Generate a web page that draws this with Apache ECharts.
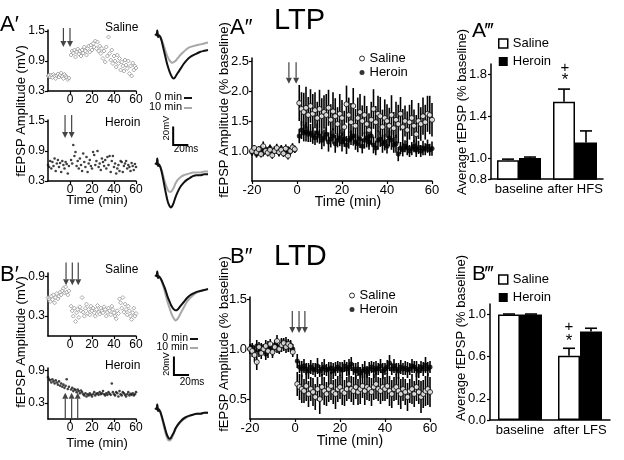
<!DOCTYPE html>
<html><head><meta charset="utf-8">
<script src="https://cdn.jsdelivr.net/npm/echarts@6/dist/echarts.min.js"></script>
<style>html,body{margin:0;padding:0;background:#fff}#c{width:624px;height:460px}</style>
</head><body><div id="c"></div>
<script>
const FONT = '"Liberation Sans", Arial, sans-serif';

// ---- time axis (min) shared by all time-course panels ----
const timeMin = [-20,-19,-18,-17,-16,-15,-14,-13,-12,-11,-10,-9,-8,-7,-6,-5,-4,-3,-2,-1,
 1,2,3,4,5,6,7,8,9,10,11,12,13,14,15,16,17,18,19,20,21,22,23,24,25,26,27,28,29,30,
 31,32,33,34,35,36,37,38,39,40,41,42,43,44,45,46,47,48,49,50,51,52,53,54,55,56,57,58,59,60];

// ---- A' single-slice fEPSP amplitude (mV) ----
const salA1 = [0.60,0.62,0.58,0.62,0.57,0.63,0.60,0.55,0.61,0.64,0.58,0.62,0.66,0.59,0.55,0.63,0.60,0.57,0.53,0.56,
 1.02,1.10,1.06,1.12,0.98,1.08,1.14,1.04,1.10,1.00, 1.12,1.06,1.18,1.10,1.02,1.15,1.20,1.08,1.22,1.12,
 1.25,1.18,1.30,1.15,1.28,1.10,1.20,1.05,1.15,0.95, 1.10,0.88,1.18,1.00,1.38,1.05,0.92,1.12,0.85,1.00,
 0.90,0.78,1.02,0.85,0.95,0.72,0.88,0.80,0.70,0.92, 0.82,0.75,0.90,0.65,0.80,0.60,0.86,0.72,0.80,0.76];
const herA1 = [0.62,0.58,0.70,0.55,0.68,0.60,0.75,0.50,0.65,0.72,0.58,0.66,0.48,0.70,0.62,0.55,0.68,0.64,0.45,0.60,
 0.72,0.65,1.02,0.80,0.88,0.60,0.70,0.55,0.75,0.62, 0.50,0.85,0.68,0.58,0.78,0.48,0.65,0.72,0.60,0.55,
 0.88,0.82,0.62,0.70,0.90,0.58,0.65,0.52,0.75,0.68, 0.60,0.72,0.55,0.78,0.62,0.80,0.48,0.70,0.80,0.58,
 0.65,0.45,0.55,0.62,0.50,0.70,0.68,0.48,0.60,0.65, 0.70,0.55,0.62,0.58,0.50,0.66,0.60,0.52,0.64,0.58];

// ---- B' single-slice fEPSP amplitude (mV) ----
const salB1 = [0.58,0.55,0.52,0.60,0.55,0.62,0.50,0.58,0.64,0.56,0.60,0.66,0.62,0.68,0.72,0.65,0.74,0.66,0.62,0.68,
 0.45,0.38,0.30,0.42,0.22,0.35,0.40,0.28,0.44,0.38, 0.58,0.36,0.30,0.42,0.48,0.34,0.40,0.32,0.45,0.38,
 0.42,0.35,0.30,0.40,0.46,0.36,0.33,0.42,0.38,0.35, 0.44,0.40,0.30,0.36,0.42,0.38,0.32,0.45,0.40,0.35,
 0.30,0.26,0.38,0.34,0.56,0.50,0.42,0.58,0.36,0.48, 0.40,0.32,0.45,0.38,0.30,0.25,0.35,0.42,0.30,0.34];
const herB1 = [0.78,0.74,0.72,0.68,0.74,0.70,0.66,0.72,0.68,0.64,0.70,0.62,0.66,0.60,0.64,0.58,0.62,0.74,0.56,0.60,
 0.55,0.58,0.52,0.56,0.54,0.50,0.55,0.52,0.48,0.53, 0.50,0.46,0.44,0.48,0.42,0.46,0.44,0.48,0.45,0.42,
 0.46,0.50,0.44,0.47,0.48,0.45,0.50,0.46,0.48,0.52, 0.46,0.44,0.48,0.45,0.50,0.47,0.45,0.66,0.50,0.46,
 0.44,0.50,0.48,0.42,0.52,0.46,0.44,0.50,0.48,0.45, 0.42,0.46,0.50,0.44,0.47,0.45,0.48,0.44,0.46,0.50];

// ---- A'' LTP group means (% baseline) and SEM ----
const salA2 = [1.00,1.05,0.98,1.03,0.95,1.08,1.00,0.97,1.02,0.93,1.00,1.05,0.98,1.02,0.96,1.04,0.92,1.00,1.06,1.03,
 1.80,1.70,1.65,1.72,1.60,1.75,1.62,1.68,1.55,1.70, 1.58,1.65,1.60,1.72,1.52,1.66,1.58,1.45,1.62,1.55,
 1.40,1.78,1.60,1.48,1.75,1.42,1.55,1.65,1.50,1.60, 1.45,1.35,1.52,1.70,1.48,1.62,1.58,1.40,1.55,1.50,
 1.42,1.60,1.38,1.52,1.45,1.62,1.40,1.50,1.35,1.48, 1.55,1.42,1.28,1.50,1.45,1.58,1.48,1.62,1.60,1.52];
const salA2Err = [0.06,0.05,0.07,0.05,0.06,0.08,0.05,0.06,0.07,0.06,0.05,0.07,0.06,0.05,0.06,0.07,0.06,0.05,0.07,0.06,
 0.30,0.28,0.32,0.35,0.30,0.28,0.33,0.30,0.27,0.32, 0.30,0.28,0.35,0.30,0.26,0.32,0.30,0.28,0.33,0.30,
 0.27,0.31,0.29,0.32,0.30,0.28,0.34,0.30,0.26,0.32, 0.30,0.28,0.30,0.33,0.27,0.30,0.32,0.29,0.31,0.28,
 0.30,0.33,0.27,0.30,0.32,0.28,0.30,0.26,0.31,0.29, 0.30,0.27,0.32,0.30,0.28,0.31,0.29,0.30,0.32,0.28];
const herA2 = [0.98,1.02,0.95,1.00,1.04,0.97,1.03,0.99,1.05,0.96,1.02,1.00,0.98,1.04,0.97,1.01,1.03,0.99,1.05,1.02,
 1.25,1.35,1.30,1.32,1.28,1.30,1.26,1.22,1.30,1.25, 1.18,1.22,1.28,1.15,1.20,1.25,1.12,1.18,1.22,1.15,
 1.20,1.10,1.18,1.22,1.25,1.15,1.12,1.20,1.08,1.18, 1.22,1.15,1.25,1.10,1.05,1.18,1.20,1.12,1.15,1.08,
 1.22,1.18,1.10,1.12,0.95,1.05,1.02,1.08,1.05,1.00, 1.04,1.08,1.02,1.06,1.00,1.05,1.03,1.08,1.02,1.04];
const herA2Err = [0.06,0.05,0.06,0.07,0.05,0.06,0.05,0.07,0.06,0.05,0.06,0.05,0.07,0.06,0.05,0.06,0.05,0.07,0.06,0.05,
 0.12,0.15,0.14,0.16,0.13,0.15,0.14,0.12,0.16,0.13, 0.15,0.14,0.12,0.16,0.14,0.13,0.15,0.12,0.14,0.16,
 0.13,0.15,0.14,0.12,0.16,0.13,0.14,0.15,0.12,0.14, 0.16,0.13,0.15,0.14,0.12,0.16,0.13,0.15,0.14,0.12,
 0.14,0.16,0.13,0.15,0.12,0.10,0.11,0.10,0.12,0.10, 0.11,0.10,0.12,0.11,0.10,0.12,0.10,0.11,0.10,0.12];

// ---- B'' LTD group means (% baseline) and SEM ----
const salB2 = [1.00,0.98,0.94,0.87,1.02,0.96,1.00,1.03,0.98,1.05,0.97,1.02,1.08,1.00,1.04,1.06,1.02,1.05,1.03,0.97,
 0.65,0.62,0.60,0.58,0.63,0.55,0.60,0.57,0.52,0.60, 0.50,0.62,0.58,0.55,0.60,0.63,0.57,0.55,0.60,0.62,
 0.58,0.56,0.60,0.65,0.60,0.58,0.62,0.57,0.60,0.63, 0.58,0.62,0.60,0.57,0.62,0.65,0.60,0.58,0.62,0.60,
 0.63,0.58,0.55,0.60,0.62,0.58,0.55,0.60,0.57,0.52, 0.58,0.60,0.55,0.62,0.57,0.52,0.55,0.58,0.60,0.57];
const salB2Err = [0.05,0.06,0.07,0.08,0.05,0.06,0.05,0.06,0.07,0.05,0.06,0.05,0.06,0.05,0.07,0.05,0.06,0.05,0.06,0.05,
 0.12,0.13,0.14,0.12,0.15,0.13,0.12,0.14,0.13,0.12, 0.15,0.13,0.14,0.12,0.13,0.14,0.12,0.15,0.13,0.12,
 0.14,0.13,0.12,0.15,0.13,0.14,0.12,0.13,0.15,0.12, 0.14,0.13,0.12,0.14,0.13,0.15,0.12,0.13,0.14,0.12,
 0.13,0.15,0.14,0.12,0.13,0.14,0.15,0.12,0.13,0.14, 0.12,0.15,0.13,0.14,0.12,0.16,0.14,0.15,0.16,0.15];
const herB2 = [1.00,1.02,0.98,1.03,0.97,1.02,1.00,0.95,1.03,1.01,0.98,1.04,1.02,1.00,1.05,1.03,1.06,1.02,1.04,1.00,
 0.88,0.82,0.80,0.83,0.80,0.78,0.82,0.80,0.79,0.83, 0.78,0.80,0.82,0.79,0.80,0.81,0.78,0.80,0.82,0.80,
 0.79,0.83,0.80,0.82,0.85,0.80,0.78,0.80,0.76,0.78, 0.80,0.77,0.80,0.82,0.79,0.81,0.80,0.83,0.78,0.80,
 0.82,0.86,0.80,0.83,0.80,0.78,0.82,0.80,0.81,0.79, 0.80,0.83,0.82,0.80,0.78,0.82,0.80,0.84,0.80,0.82];
const herB2Err = [0.05,0.04,0.05,0.06,0.05,0.04,0.05,0.06,0.05,0.04,0.05,0.05,0.06,0.04,0.05,0.05,0.06,0.05,0.04,0.05,
 0.07,0.06,0.08,0.07,0.06,0.08,0.07,0.06,0.07,0.08, 0.06,0.07,0.08,0.06,0.07,0.06,0.08,0.07,0.06,0.07,
 0.08,0.06,0.07,0.08,0.07,0.06,0.08,0.07,0.06,0.07, 0.08,0.06,0.07,0.06,0.08,0.07,0.06,0.07,0.08,0.06,
 0.07,0.08,0.06,0.07,0.06,0.08,0.07,0.06,0.07,0.08, 0.06,0.07,0.06,0.08,0.07,0.06,0.07,0.08,0.07,0.06];

// ---- stimulus arrows: [time, from value, to value] ----
const arrowsA1sal = [[-6,1.56,1.18],[0,1.56,1.18]];
const arrowsA1her = [[-4.5,1.62,1.16],[1.5,1.62,1.16]];
const arrowsA2 = [[-3.6,2.48,2.12],[-0.4,2.48,2.12]];
const arrowsB1sal = [[-3.6,1.11,0.765],[2.1,1.11,0.765],[7.5,1.11,0.765]];
const arrowsB1her = [[-4.3,0.02,0.49],[1.5,0.02,0.49],[7.0,0.02,0.49]];
const arrowsB2 = [[-1.2,1.38,1.16],[1.8,1.38,1.16],[4.4,1.38,1.16]];

// ---- A''' / B''' bar summaries ----
const catsA = ['baseline','after HFS'];
const salA3 = [0.98,1.54], salA3Err = [0.01,0.12];
const herA3 = [1.00,1.15], herA3Err = [0.01,0.11];
const catsB = ['baseline','after LFS'];
const salB3 = [1.00,0.61], salB3Err = [0.005,0.07];
const herB3 = [1.00,0.84], herB3Err = [0.005,0.03];

// ---- sample fEPSP traces (ms, mV) ----
const traceT = [0,2,3,4,5,7,9,11,13,15,17,19,21,23,25,27,30,34,38,42,46,50,55,60,65,70];
const trA_top_0 = [0,-1,4,-3,-1,-3,-8,-15,-22,-29,-35,-40,-44,-47,-48,-46,-42,-37,-32,-28,-25,-23,-21,-19,-18,-17];
const trA_top_10 = [0,-1,4,-3,-1,-3,-6,-11,-16,-21,-25,-28,-30,-31,-30,-29,-26,-22,-19,-16,-14,-13,-12,-11,-10,-9];
const trA_bot_0 = [0,-1,5,-3,-1,-4,-10,-18,-27,-35,-42,-46,-48,-46,-42,-37,-31,-25,-21,-18,-16,-14,-13,-13,-12,-12];
const trA_bot_10 = [0,-1,5,-3,-1,-4,-8,-14,-20,-25,-29,-31,-31,-29,-26,-22,-18,-15,-13,-12,-11,-10,-10,-10,-9,-9];
const trB_top_0 = [0,-1,4,-3,-1,-3,-6,-10,-14,-19,-24,-28,-32,-35,-37,-38,-37,-33,-29,-25,-22,-20,-18,-17,-16,-15];
const trB_top_10 = [0,-1,4,-3,-1,-3,-7,-12,-18,-24,-30,-35,-40,-44,-47,-49,-47,-41,-35,-29,-25,-22,-19,-17,-16,-15];
const trB_bot_0 = [0,-1,4,-3,-1,-4,-9,-15,-21,-27,-31,-33,-32,-29,-26,-22,-18,-14,-11,-9,-8,-7,-6,-6,-5,-5];
const trB_bot_10 = [0,-1,4,-3,-1,-4,-10,-17,-24,-30,-34,-35,-34,-31,-27,-23,-19,-15,-12,-10,-8,-7,-6,-6,-5,-5];
const scaleBarA = [[24,-120,20,20]];
const scaleBarB = [[25,-108,20,20]];

// ================= build =================
const zip = (a)=>timeMin.map((t,i)=>[t,a[i]]);
const zip3 = (a,e)=>timeMin.map((t,i)=>[t,a[i],e[i]]);
const tr = v=>traceT.map((t,i)=>[t,v[i]]);
const f1 = v=>Number(v).toFixed(1);
const f0 = v=>String(v);

function valAxis(g,min,max,ticks,fmt,margin,fs){
  return {gridIndex:g,type:'value',min:min,max:max,
    axisLine:{show:true,onZero:false,lineStyle:{color:'#000',width:1.5}},
    axisTick:{show:true,length:3,customValues:ticks,lineStyle:{color:'#000',width:1.2}},
    axisLabel:{show:true,customValues:ticks,color:'#000',fontSize:fs||13,fontFamily:FONT,margin:margin||4,formatter:fmt},
    splitLine:{show:false}};
}
function hidden(g,min,max){return {gridIndex:g,type:'value',min:min,max:max,show:false};}
function catAxis(g,cats){
  return {gridIndex:g,type:'category',data:cats,
    axisLine:{show:true,lineStyle:{color:'#000',width:1.5}},axisTick:{show:false},
    axisLabel:{color:'#000',fontSize:13,fontFamily:FONT,margin:4,interval:0},splitLine:{show:false}};
}

function errRender(params,api){
  const t=api.value(0),m=api.value(1),e=api.value(2);
  const a=api.coord([t,m-e]),b=api.coord([t,m+e]);
  return {type:'line',shape:{x1:a[0],y1:a[1],x2:b[0],y2:b[1]},style:{stroke:'#000',lineWidth:1.6}};
}
function arrowRender(params,api){
  const t=api.value(0),a=api.value(1),b=api.value(2);
  const p1=api.coord([t,a]),p2=api.coord([t,b]);
  const d=p2[1]>p1[1]?1:-1, hl=6, hw=3;
  return {type:'group',children:[
    {type:'line',shape:{x1:p1[0],y1:p1[1],x2:p2[0],y2:p2[1]-d*hl},style:{stroke:'#444',lineWidth:1.2}},
    {type:'polygon',shape:{points:[[p2[0],p2[1]],[p2[0]-hw,p2[1]-d*hl],[p2[0]+hw,p2[1]-d*hl]]},style:{fill:'#444'}}]};
}
function scaleRender(params,api){
  const t=api.value(0),v=api.value(1),dt=api.value(2),dv=api.value(3);
  const o=api.coord([t,v]),up=api.coord([t,v+dv]),rt=api.coord([t+dt,v]);
  return {type:'polyline',shape:{points:[up,o,rt]},style:{stroke:'#000',lineWidth:2,fill:null}};
}
const BAR_W = 22;
function barErrRender(params,api){
  const c=api.value(0),v=api.value(1),e=api.value(2),side=api.value(3);
  const b=api.coord([c,v]),t=api.coord([c,v+e]);
  const x=b[0]+side*BAR_W/2;
  return {type:'group',children:[
    {type:'line',shape:{x1:x,y1:b[1],x2:x,y2:t[1]},style:{stroke:'#000',lineWidth:1.6}},
    {type:'line',shape:{x1:x-6,y1:t[1],x2:x+6,y2:t[1]},style:{stroke:'#000',lineWidth:1.6}}]};
}

const S = [];
function onGrid(g,obj){obj.xAxisIndex=g;obj.yAxisIndex=g;S.push(obj);}
function custom(g,data,render,z){onGrid(g,{type:'custom',data:data,renderItem:render,encode:{x:0,y:1},z:z||2,silent:true,clip:false});}

// A'
onGrid(0,{type:'scatter',data:zip(salA1),symbol:'diamond',symbolSize:4,itemStyle:{color:'#fff',borderColor:'#8a8a8a',borderWidth:0.9}});
custom(0,arrowsA1sal,arrowRender);
onGrid(1,{type:'scatter',data:zip(herA1),symbol:'circle',symbolSize:2.6,itemStyle:{color:'#111'}});
custom(1,arrowsA1her,arrowRender);
// B'
onGrid(6,{type:'scatter',data:zip(salB1),symbol:'diamond',symbolSize:4,itemStyle:{color:'#fff',borderColor:'#8a8a8a',borderWidth:0.9}});
custom(6,arrowsB1sal,arrowRender);
onGrid(7,{type:'scatter',data:zip(herB1),symbol:'circle',symbolSize:2.6,itemStyle:{color:'#111'}});
custom(7,arrowsB1her,arrowRender);
// traces
function traces(g,black,gray,bar){
  onGrid(g,{type:'line',data:tr(gray),showSymbol:false,smooth:0.3,lineStyle:{color:'#a8a8a8',width:2},silent:true});
  onGrid(g,{type:'line',data:tr(black),showSymbol:false,smooth:0.3,lineStyle:{color:'#111',width:2},silent:true});
  if(bar) custom(g,bar,scaleRender);
}
traces(2,trA_top_0,trA_top_10,scaleBarA);
traces(3,trA_bot_0,trA_bot_10,null);
traces(8,trB_top_0,trB_top_10,scaleBarB);
traces(9,trB_bot_0,trB_bot_10,null);
// A'' and B''
function course(g,sal,salE,her,herE,arrows,tag){
  custom(g,zip3(her,herE),errRender,2);
  onGrid(g,{type:'scatter',name:'Her'+tag,data:zip(her),symbol:'circle',symbolSize:5,itemStyle:{color:'#000'},z:3});
  custom(g,zip3(sal,salE),errRender,4);
  onGrid(g,{type:'scatter',name:'Sal'+tag,data:zip(sal),symbol:'circle',symbolSize:5,itemStyle:{color:'#fff',borderColor:'#000',borderWidth:1},z:5});
  custom(g,arrows,arrowRender,6);
}
course(4,salA2,salA2Err,herA2,herA2Err,arrowsA2,'A2');
course(10,salB2,salB2Err,herB2,herB2Err,arrowsB2,'B2');
// bars
function bars(g,sal,salE,her,herE,tag){
  onGrid(g,{type:'bar',name:'Sal'+tag,data:sal,barWidth:BAR_W,barGap:'0%',itemStyle:{color:'#fff',borderColor:'#000',borderWidth:1.5},clip:true});
  onGrid(g,{type:'bar',name:'Her'+tag,data:her,barWidth:BAR_W,barGap:'0%',itemStyle:{color:'#000',borderColor:'#000',borderWidth:1.5},clip:true});
  custom(g,sal.map((v,i)=>[i,v,salE[i],-1]),barErrRender,5);
  custom(g,her.map((v,i)=>[i,v,herE[i],1]),barErrRender,5);
}
bars(5,salA3,salA3Err,herA3,herA3Err,'A3');
bars(11,salB3,salB3Err,herB3,herB3Err,'B3');

const grids = [
 {left:48,top:30,width:88,height:61},
 {left:48,top:120,width:88,height:61},
 {left:155,top:25,width:53,height:60},
 {left:155,top:154,width:53,height:60},
 {left:252,top:58,width:180,height:123},
 {left:491,top:64,width:112,height:115},
 {left:48,top:273,width:88,height:63},
 {left:48,top:368,width:88,height:51},
 {left:155,top:266,width:53,height:60},
 {left:155,top:399,width:53,height:60},
 {left:250,top:297,width:180,height:122},
 {left:490,top:304,width:120,height:116}
];
const xAxes = [
 valAxis(0,-20,60,[0,20,40,60],f0,3,12),
 valAxis(1,-20,60,[0,20,40,60],f0,3,12),
 hidden(2,0,70), hidden(3,0,70),
 valAxis(4,-20,60,[-20,0,20,40,60],f0,3,13),
 catAxis(5,catsA),
 valAxis(6,-20,60,[0,20,40,60],f0,3,12),
 valAxis(7,-20,60,[0,20,40,60],f0,3,12),
 hidden(8,0,70), hidden(9,0,70),
 valAxis(10,-20,60,[-20,0,20,40,60],f0,3,13),
 catAxis(11,catsB)
];
const yAxes = [
 valAxis(0,0.3,1.52,[0.3,0.9,1.5],f1,3,12),
 valAxis(1,0.3,1.52,[0.3,0.9,1.5],f1,3,12),
 hidden(2,-55,10), hidden(3,-55,10),
 valAxis(4,0.5,2.55,[1,1.5,2,2.5],f1,3,13),
 valAxis(5,0.8,1.9,[0.8,1.0,1.4,1.8],f1,4,13),
 valAxis(6,0,0.95,[0.3,0.9],f1,3,12),
 valAxis(7,0,0.95,[0.3,0.9],f1,3,12),
 hidden(8,-55,10), hidden(9,-55,10),
 valAxis(10,0.3,1.52,[0.5,1,1.5],f1,3,13),
 valAxis(11,0,1.1,[0,0.2,0.6,1.0],f1,4,13)
];

const legFmt = n=>n.indexOf('Sal')===0?'Saline':'Heroin';
function legCircle(left,top,tag){
  return {left:left,top:top,orient:'vertical',itemWidth:5,itemHeight:5,itemGap:1,selectedMode:false,padding:0,
    textStyle:{fontSize:13,fontFamily:FONT,color:'#000'},formatter:legFmt,
    data:[{name:'Sal'+tag,icon:'circle',itemStyle:{color:'#fff',borderColor:'#000',borderWidth:1}},
          {name:'Her'+tag,icon:'circle',itemStyle:{color:'#000',borderWidth:0}}]};
}
function legRect(left,top,tag){
  return {left:left,top:top,orient:'vertical',itemWidth:9,itemHeight:9,itemGap:5,selectedMode:false,padding:0,
    textStyle:{fontSize:13,fontFamily:FONT,color:'#000'},formatter:legFmt,
    data:[{name:'Sal'+tag,icon:'rect',itemStyle:{color:'#fff',borderColor:'#000',borderWidth:1.5}},
          {name:'Her'+tag,icon:'rect',itemStyle:{color:'#000',borderWidth:0}}]};
}

function T(x,y,text,size,align,extra){
  return Object.assign({type:'text',x:x,y:y,silent:true,style:{text:text,font:size+'px '+FONT,fill:'#000',
    align:align||'left',verticalAlign:'middle',textAlign:align||'left',textVerticalAlign:'middle'}},extra||{});
}
const ROT = {rotation:Math.PI/2};
function L(x1,y1,x2,y2,color){return {type:'line',silent:true,shape:{x1:x1,y1:y1,x2:x2,y2:y2},style:{stroke:color,lineWidth:2}};}

const graphics = [
 T(0,25,'A\u2032',22), T(105,28,'Saline',12), T(105,123,'Heroin',12), T(97,200,'Time (min)',13,'center'),
 T(21,111,'fEPSP Amplitude (mV)',13,'center',ROT),
 T(182,97,'0 min',11,'right'), T(182,107,'10 min',11,'right'), L(184,98,192,98,'#111'), L(184,108,192,108,'#a8a8a8'),
 T(166,128,'20mV',9.5,'center',ROT), T(186,149,'20ms',10,'center'),
 T(230,28,'A\u2033',22), T(274,21,'LTP',29), T(224,110,'fEPSP Amplitude (% baseline)',13,'center',ROT),
 T(348,202,'Time (min)',14,'center'),
 T(472,31,'A\u2034',21), T(462,112,'Average fEPSP (% baseline)',13,'center',ROT),
 T(565,68,'+',15,'center'), T(565,80,'*',17,'center'),
 T(0,275,'B\u2032',22), T(105,270,'Saline',12), T(105,366,'Heroin',12), T(97,443,'Time (min)',13,'center'),
 T(21,342,'fEPSP Amplitude (mV)',13,'center',ROT),
 T(188,338,'0 min',10.5,'right'), T(188,347,'10 min',10.5,'right'), L(190,339,198,339,'#111'), L(190,348,198,348,'#a8a8a8'),
 T(167,364,'20mV',9,'center',ROT), T(192,382,'20ms',10,'center'),
 T(230,257,'B\u2033',22), T(274,257,'LTD',29), T(224,344,'fEPSP Amplitude (% baseline)',13,'center',ROT),
 T(350,441,'Time (min)',14,'center'),
 T(472,274,'B\u2034',21), T(461,338,'Average fEPSP (% baseline)',13,'center',ROT),
 T(569,327,'+',15,'center'), T(569,341,'*',17,'center')
];

const chart = echarts.init(document.getElementById('c'),null,{renderer:'canvas'});
chart.setOption({
  animation:false, backgroundColor:'#fff',
  textStyle:{fontFamily:FONT},
  grid:grids, xAxis:xAxes, yAxis:yAxes,
  legend:[legCircle(359,52,'A2'),legRect(498,37,'A3'),legCircle(349,289,'B2'),legRect(498,273,'B3')],
  series:S,
  graphic:{elements:graphics}
});
</script>
</body></html>
